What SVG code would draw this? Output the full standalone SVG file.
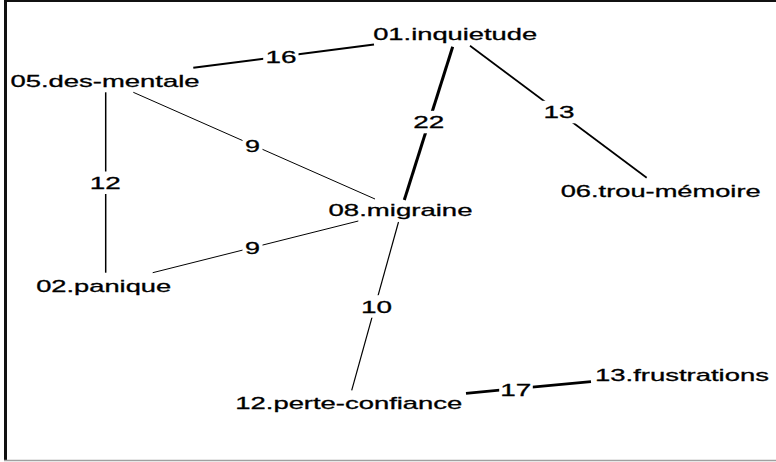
<svg xmlns="http://www.w3.org/2000/svg" width="776" height="462" viewBox="0 0 776 462">
  <style>
    text { font-family: "Liberation Sans", Arial, sans-serif; font-size: 17px; fill: #000; stroke: #000; stroke-width: 0.3; text-anchor: middle; }
    .edge line { stroke: #000; stroke-linecap: butt; }
    .lbl-bg { fill: #fff; }
    .w9 { stroke-width: 1; }
    .w10 { stroke-width: 1.2; }
    .w12 { stroke-width: 1.5; }
    .w13 { stroke-width: 1.7; }
    .w16 { stroke-width: 2; }
    .w17 { stroke-width: 2.7; }
    .w22 { stroke-width: 3; }
  </style>

  <rect x="0" y="0" width="776" height="462" fill="#fff"/>

  <!-- frame -->
  <g id="frame">
    <line x1="4" y1="1" x2="776" y2="1" stroke="#111" stroke-width="2"/>
    <line x1="5.5" y1="0" x2="5.5" y2="461" stroke="#111" stroke-width="3"/>
    <line x1="4" y1="460.5" x2="776" y2="460.5" stroke="#a0a0a0" stroke-width="1.5"/>
  </g>

  <!-- connectors with weight labels -->
  <g id="connectors">
    <g class="edge" id="e-05-01">
      <line class="w16" x1="193.3" y1="67.7" x2="374" y2="44.5"/>
      <rect class="lbl-bg" x="263.2" y="45.5" width="35.3" height="22.5"/>
      <text x="281" y="63" textLength="31" lengthAdjust="spacingAndGlyphs">16</text>
    </g>
    <g class="edge" id="e-01-08">
      <line class="w22" x1="452.7" y1="46.7" x2="404.3" y2="200"/>
      <rect class="lbl-bg" x="410.8" y="110.8" width="36" height="22.5"/>
      <text x="428.8" y="128.3" textLength="31" lengthAdjust="spacingAndGlyphs">22</text>
    </g>
    <g class="edge" id="e-01-06">
      <line class="w13" x1="470" y1="45.7" x2="646.7" y2="177.7"/>
      <rect class="lbl-bg" x="541.8" y="100.8" width="35" height="22.5"/>
      <text x="559" y="118.3" textLength="31" lengthAdjust="spacingAndGlyphs">13</text>
    </g>
    <g class="edge" id="e-05-08">
      <line class="w9" x1="133.3" y1="92.3" x2="375" y2="199"/>
      <rect class="lbl-bg" x="242.5" y="134" width="20" height="22.5"/>
      <text x="252.5" y="151.5" textLength="15" lengthAdjust="spacingAndGlyphs">9</text>
    </g>
    <g class="edge" id="e-05-02">
      <line class="w12" x1="105.7" y1="92.3" x2="105.7" y2="272.7"/>
      <rect class="lbl-bg" x="88.2" y="171.5" width="34.3" height="22.5"/>
      <text x="105.2" y="189" textLength="31" lengthAdjust="spacingAndGlyphs">12</text>
    </g>
    <g class="edge" id="e-02-08">
      <line class="w9" x1="152.7" y1="272.7" x2="358.3" y2="221"/>
      <rect class="lbl-bg" x="242.5" y="236.2" width="20" height="22.5"/>
      <text x="252.5" y="253.7" textLength="15" lengthAdjust="spacingAndGlyphs">9</text>
    </g>
    <g class="edge" id="e-08-12">
      <line class="w10" x1="398.5" y1="222" x2="351.7" y2="390.3"/>
      <rect class="lbl-bg" x="359.2" y="295.2" width="35.3" height="22.5"/>
      <text x="376.5" y="312.7" textLength="31" lengthAdjust="spacingAndGlyphs">10</text>
    </g>
    <g class="edge" id="e-12-13">
      <line class="w17" x1="466" y1="393.3" x2="591" y2="381.7"/>
      <rect class="lbl-bg" x="499.2" y="378.5" width="33.6" height="22.5"/>
      <text x="515.8" y="396" textLength="31" lengthAdjust="spacingAndGlyphs">17</text>
    </g>
  </g>

  <!-- nodes -->
  <g id="n01"><text x="455.2" y="40" textLength="164" lengthAdjust="spacingAndGlyphs">01.inquietude</text></g>
  <g id="n05"><text x="105" y="86.5" textLength="189" lengthAdjust="spacingAndGlyphs">05.des-mentale</text></g>
  <g id="n06"><text x="660.7" y="196.7" textLength="200" lengthAdjust="spacingAndGlyphs">06.trou-mémoire</text></g>
  <g id="n08"><text x="400.5" y="216" textLength="144" lengthAdjust="spacingAndGlyphs">08.migraine</text></g>
  <g id="n02"><text x="103.7" y="291.7" textLength="135" lengthAdjust="spacingAndGlyphs">02.panique</text></g>
  <g id="n12"><text x="348.8" y="408.7" textLength="227" lengthAdjust="spacingAndGlyphs">12.perte-confiance</text></g>
  <g id="n13"><text x="682" y="381" textLength="174" lengthAdjust="spacingAndGlyphs">13.frustrations</text></g>
</svg>
